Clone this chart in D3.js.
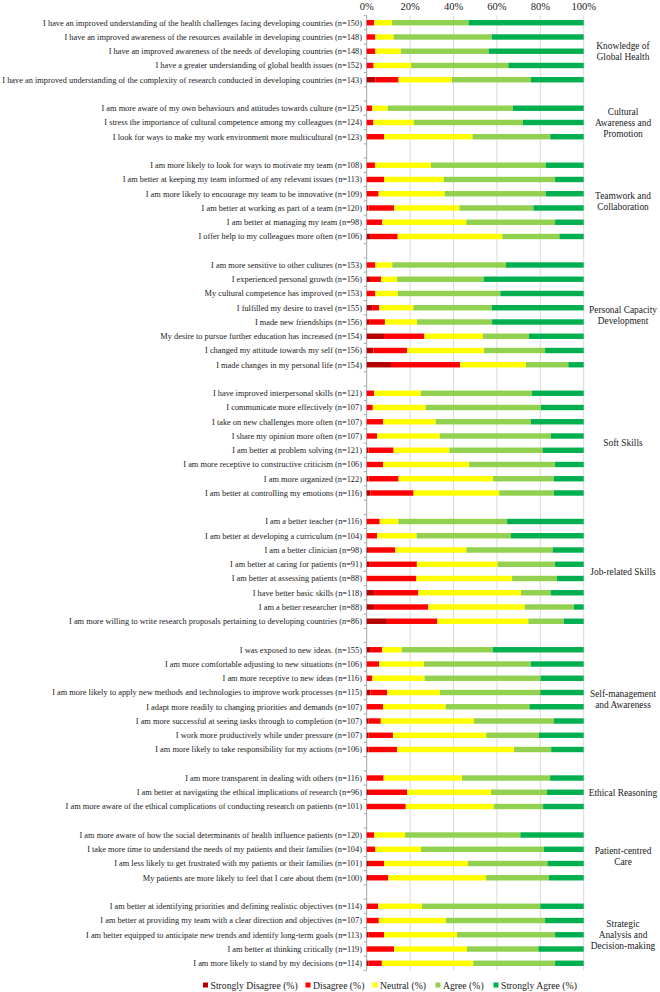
<!DOCTYPE html>
<html><head><meta charset="utf-8">
<script src="https://cdn.jsdelivr.net/npm/d3@7"></script>
<style>body{margin:0;background:#fff}svg{display:block}text{font-family:"Liberation Serif","Times New Roman",serif;fill:#222}</style>
</head><body><svg id="c" width="660" height="992"></svg>
<script>
const groupLabels = [
  ["Knowledge of","Global Health"],
  ["Cultural","Awareness and","Promotion"],
  ["Teamwork and","Collaboration"],
  ["Personal Capacity","Development"],
  ["Soft Skills"],
  ["Job-related Skills"],
  ["Self-management","and Awareness"],
  ["Ethical Reasoning"],
  ["Patient-centred","Care"],
  ["Strategic","Analysis and","Decision-making"]
];
const groupSizes = [5,3,6,8,8,8,8,3,4,5];
const statements = [
"I have an improved understanding of the health challenges facing developing countries (n=150)",
"I have an improved awareness of the resources available in developing countries (n=148)",
"I have an improved awareness of the needs of developing countries (n=148)",
"I have a greater understanding of global health issues (n=152)",
"I have an improved understanding of the complexity of research conducted in developing countries (n=143)",
"I am more aware of my own behaviours and attitudes towards culture (n=125)",
"I stress the importance of cultural competence among my colleagues (n=124)",
"I look for ways to make my work environment more multicultural (n=123)",
"I am more likely to look for ways to motivate my team (n=108)",
"I am better at keeping my team informed of any relevant issues (n=113)",
"I am more likely to encourage my team to be innovative (n=109)",
"I am better at working as part of a team (n=120)",
"I am better at managing my team (n=98)",
"I offer help to my colleagues more often (n=106)",
"I am more sensitive to other cultures (n=153)",
"I experienced personal growth (n=156)",
"My cultural competence has improved (n=153)",
"I fulfilled my desire to travel (n=155)",
"I made new friendships (n=156)",
"My desire to pursue further education has increased (n=154)",
"I changed my attitude towards my self (n=156)",
"I made changes in my personal life (n=154)",
"I have improved interpersonal skills (n=121)",
"I communicate more effectively (n=107)",
"I take on new challenges more often (n=107)",
"I share my opinion more often (n=107)",
"I am better at problem solving (n=121)",
"I am more receptive to constructive criticism (n=106)",
"I am more organized (n=122)",
"I am better at controlling my emotions (n=116)",
"I am a better teacher (n=116)",
"I am better at developing a curriculum (n=104)",
"I am a better clinician (n=98)",
"I am better at caring for patients (n=91)",
"I am better at assessing patients (n=88)",
"I have better basic skills (n=118)",
"I am a better researcher (n=88)",
"I am more willing to write research proposals pertaining to developing countries (n=86)",
"I was exposed to new ideas. (n=155)",
"I am more comfortable adjusting to new situations (n=106)",
"I am more receptive to new ideas (n=116)",
"I am more likely to apply new methods and technologies to improve work processes (n=115)",
"I adapt more readily to changing priorities and demands (n=107)",
"I am more successful at seeing tasks through to completion (n=107)",
"I work more productively while under pressure (n=107)",
"I am more likely to take responsibility for my actions (n=106)",
"I am more transparent in dealing with others (n=116)",
"I am better at navigating the ethical implications of research (n=96)",
"I am more aware of the ethical complications of conducting research on patients (n=101)",
"I am more aware of how the social determinants of health influence patients (n=120)",
"I take more time to understand the needs of my patients and their families (n=104)",
"I am less likely to get frustrated with my patients or their families (n=101)",
"My patients are more likely to feel that I care about them (n=100)",
"I am better at identifying priorities and defining realistic objectives (n=114)",
"I am better at providing my team with a clear direction and objectives (n=107)",
"I am better equipped to anticipate new trends and identify long-term goals (n=113)",
"I am better at thinking critically (n=119)",
"I am more likely to stand by my decisions (n=114)"
];
const stronglyDisagree = [0,0,0,0,4.1, 0,0,0, 0,0,0,0.8,0,1.9, 0,1.5,0,2.5,1.1,8.0,3.1,11.2,
  0,0,0,0,0.8,0,0.8,1.7, 0,0,1.0,1.1,0,3.4,3.4,9.3, 1.9,0,0,1.7,0,0.9,0.9,0.9, 0,1.0,0, 0,0,1.0,1.0, 0,0,0.9,0,0.9];
const disagree = [3.4,4.0,4.0,3.2,10.6, 2.5,3.1,8.1, 3.8,8.1,5.5,11.8,7.2,12.4, 4.0,5.1,4.0,3.3,7.3,18.6,15.6,31.8,
  3.4,2.8,7.5,4.8,11.6,7.5,13.9,19.9, 6.0,4.8,12.2,22.0,22.9,20.4,25.0,23.3, 5.2,5.7,2.6,7.8,7.5,5.6,11.2,13.2, 7.8,17.7,18.0, 3.5,4.0,7.0,9.0, 5.3,5.6,7.1,12.6,6.1];
const neutral = [8.3,8.4,11.7,17.2,24.5, 7.2,18.7,40.7, 25.8,27.4,30.4,30.1,38.7,48.2, 7.8,7.4,10.4,15.7,14.8,26.9,35.4,30.4,
  21.5,24.4,24.3,28.8,25.7,39.7,43.5,39.4, 8.6,18.2,32.7,37.2,44.1,47.3,44.4,41.9, 9.0,20.7,24.1,24.3,28.9,43.0,43.0,53.8, 36.1,38.6,40.5, 14.2,21.0,38.7,45.0, 20.2,30.9,33.6,33.6,42.1];
const agree = [35.3,45.2,40.5,44.9,36.5, 57.7,50.2,35.8, 52.9,51.3,46.6,34.1,40.9,26.3, 52.4,39.9,47.2,36.1,34.6,21.3,28.1,19.5,
  51.3,53.1,43.9,51.3,43.0,39.6,28.0,25.2, 50.1,43.5,39.8,26.4,20.6,13.7,22.7,16.3, 42.0,49.2,53.4,46.2,38.6,37.0,24.3,17.1, 40.6,25.8,22.8, 53.1,56.7,36.6,29.0, 54.5,45.7,45.2,32.9,37.7];
const stronglyAgree = [53.0,42.4,43.8,34.7,24.3, 32.6,28.0,15.4, 17.5,13.2,17.5,23.2,13.2,11.2, 35.8,46.1,38.4,42.4,42.2,25.2,17.8,7.1,
  23.8,19.7,24.3,15.1,18.9,13.2,13.8,13.7, 35.3,33.5,14.3,13.2,12.4,15.2,4.5,9.2, 41.9,24.4,19.9,20.0,25.0,13.7,20.6,15.0, 15.5,16.9,18.7, 29.2,18.3,16.7,16.0, 20.0,17.8,13.2,20.9,13.2];
const seriesNames = ["Strongly Disagree (%)","Disagree (%)","Neutral (%)","Agree (%)","Strongly Agree (%)"];
const seriesColors = ["#b40000","#ff0000","#ffff00","#92d050","#00b050"];
const xTicks = [0,0.2,0.4,0.6,0.8,1];

const svg = d3.select("#c");
const keys = ["sd","d","n","a","sa"];
const rows = statements.map((s,i)=>({id:"r"+i,label:s,sd:stronglyDisagree[i],d:disagree[i],n:neutral[i],a:agree[i],sa:stronglyAgree[i]}));

// slots with a blank between groups
const slots = []; const groupSlots = [];
let k = 0;
groupSizes.forEach((g,gi)=>{
  const gs=[];
  for(let j=0;j<g;j++){ slots.push(rows[k].id); gs.push(rows[k].id); k++; }
  groupSlots.push(gs);
  if(gi<groupSizes.length-1) slots.push("gap"+gi);
});

const x = d3.scaleLinear().domain([0,1]).range([366.7,583.7]);
const y = d3.scaleBand().domain(slots).range([15.6,970.4]).paddingInner(0.62).paddingOuter(0.31);

// gridlines
svg.append("g").selectAll("line").data(xTicks).join("line")
  .attr("x1",d=>x(d)).attr("x2",d=>x(d)).attr("y1",15.6).attr("y2",970.4)
  .attr("stroke",d=>d===0?"#a6a6a6":"#d9d9d9").attr("stroke-width",1);

// left tick marks at slot boundaries
const step = (970.4-15.6)/slots.length;
svg.append("g").selectAll("line").data(d3.range(slots.length+1)).join("line")
  .attr("x1",x(0)-3).attr("x2",x(0)).attr("y1",i=>15.6+i*step).attr("y2",i=>15.6+i*step)
  .attr("stroke","#a6a6a6");

// top axis labels
svg.append("g").selectAll("text").data(xTicks).join("text")
  .attr("x",d=>x(d)).attr("y",9.5).attr("text-anchor","middle").attr("font-size",10.5)
  .text(d3.format(".0%"));

const stack = d3.stack().keys(keys).offset(d3.stackOffsetExpand);
const series = stack(rows);
svg.append("g").selectAll("g").data(series).join("g")
  .attr("fill",(s,i)=>seriesColors[i])
  .selectAll("rect").data(s=>s).join("rect")
  .attr("x",d=>x(d[0])).attr("width",d=>Math.max(0,x(d[1])-x(d[0])))
  .attr("y",d=>y(d.data.id)).attr("height",y.bandwidth());

// statement labels
svg.append("g").selectAll("text").data(rows).join("text")
  .attr("x",362).attr("y",d=>y(d.id)+y.bandwidth()/2).attr("dy","0.35em")
  .attr("text-anchor","end").attr("font-size",8.35).text(d=>d.label);

// group labels
groupSlots.forEach((gs,gi)=>{
  const cy = (y(gs[0]) + y(gs[gs.length-1]) + y.bandwidth())/2;
  const lines = groupLabels[gi];
  const lh = 10.9;
  const t = svg.append("text").attr("x",623).attr("text-anchor","middle").attr("font-size",9.4);
  lines.forEach((ln,li)=>{
    t.append("tspan").attr("x",623).attr("y",cy + (li-(lines.length-1)/2)*lh).attr("dy","0.35em").text(ln);
  });
});

// legend
const legX = [203,305.5,372.5,435.5,493.5];
const leg = svg.append("g").selectAll("g").data(seriesNames).join("g")
  .attr("transform",(d,i)=>`translate(${legX[i]},985.5)`);
leg.append("rect").attr("x",0).attr("y",-3).attr("width",5).attr("height",5).attr("fill",(d,i)=>seriesColors[i]);
leg.append("text").attr("x",7.5).attr("y",0).attr("dy","0.35em").attr("font-size",9.7).text(d=>d);
</script></body></html>
